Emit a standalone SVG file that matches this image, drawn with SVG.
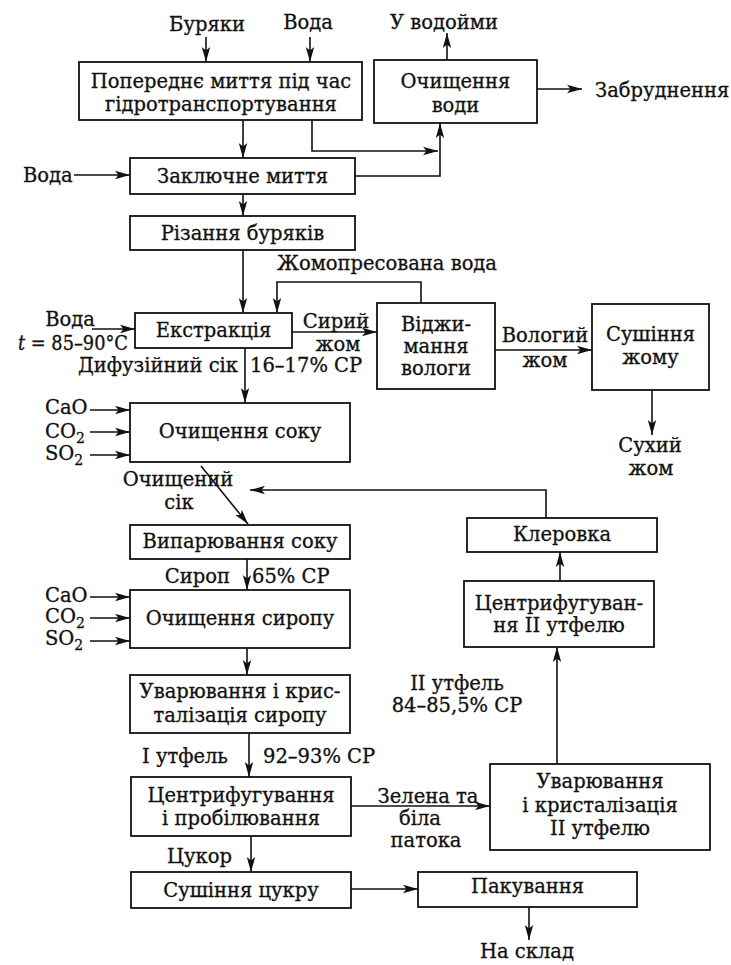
<svg xmlns="http://www.w3.org/2000/svg" width="731" height="965" viewBox="0 0 731 965">
<defs>
<marker id="ah" markerUnits="userSpaceOnUse" markerWidth="16" markerHeight="10" refX="15" refY="5" orient="auto">
<path d="M0,0.8 L15,5 L0,9.2 L3.5,5 z" fill="#111"/>
</marker>
<style>
rect{fill:#fff;stroke:#111;stroke-width:1.8}
text{font-family:"DejaVu Serif","Liberation Serif",serif;font-size:19.5px;fill:#111;stroke:#111;stroke-width:0.3}
.c{text-anchor:middle}
.e{text-anchor:end}
.sub{font-size:14px}
#connectors path{fill:none;stroke:#111;stroke-width:1.6}
.a{marker-end:url(#ah)}
</style>
</defs>
<rect x="0" y="0" width="731" height="965" style="fill:#fff;stroke:none"/>

<g id="connectors">
<path class="a" d="M206,37 V62"/>
<path class="a" d="M310,37 V62"/>
<path class="a" d="M447,60 V33"/>
<path class="a" d="M537,89 H582"/>
<path class="a" d="M243,120 V158"/>
<path class="a" d="M312,120 V151 H438"/>
<path class="a" d="M355,176 H440 V123"/>
<path class="a" d="M74,175 H130"/>
<path class="a" d="M243,194 V216"/>
<path class="a" d="M243,250 V313"/>
<path class="a" d="M421,303 V282 H277 V313"/>
<path class="a" d="M92,329 H135"/>
<path class="a" d="M292,332 H377"/>
<path class="a" d="M495,350 H592"/>
<path class="a" d="M652,390 V435"/>
<path class="a" d="M245,348 V403"/>
<path class="a" d="M90,410 H130"/>
<path class="a" d="M90,432 H130"/>
<path class="a" d="M90,455 H130"/>
<path class="a" d="M201,466 L248,524"/>
<path class="a" d="M546,518 V490 H250"/>
<path class="a" d="M247,559 V590"/>
<path class="a" d="M90,597 H130"/>
<path class="a" d="M90,618 H130"/>
<path class="a" d="M90,641 H130"/>
<path class="a" d="M247,648 V675"/>
<path class="a" d="M249,733 V777"/>
<path class="a" d="M351,806 H490"/>
<path class="a" d="M251,836 V872"/>
<path class="a" d="M351,889 H418"/>
<path class="a" d="M529,907 V940"/>
<path class="a" d="M557,764 V647"/>
<path class="a" d="M560,581 V552"/>
</g>

<g id="labels">
<text class="c" x="207" y="31">Буряки</text>
<text class="c" x="308" y="29">Вода</text>
<text class="c" x="444" y="29">У водойми</text>
<text x="595" y="97">Забруднення</text>
<text x="23" y="182">Вода</text>
<text class="c" x="387" y="270">Жомопресована вода</text>
<text class="c" x="70" y="326">Вода</text>
<text x="18" y="350" textLength="110" lengthAdjust="spacingAndGlyphs"><tspan font-style="italic">t</tspan> = 85–90°C</text>
<text class="c" x="336" y="328">Сирий</text>
<text class="c" x="338" y="351">жом</text>
<text class="c" x="545" y="342">Вологий</text>
<text class="c" x="545" y="367">жом</text>
<text class="c" x="650" y="452">Сухий</text>
<text class="c" x="651" y="475">жом</text>
<text class="e" x="238" y="372">Дифузійний сік</text>
<text x="250" y="372">16–17% СР</text>
<text x="45" y="414">CaO</text>
<text x="45" y="438">CO<tspan class="sub" dy="5">2</tspan></text>
<text x="45" y="460">SO<tspan class="sub" dy="5">2</tspan></text>
<text class="c" x="178" y="486">Очищений</text>
<text class="c" x="179" y="509">сік</text>
<text class="e" x="230" y="583">Сироп</text>
<text x="252" y="583">65% СР</text>
<text x="45" y="602">CaO</text>
<text x="45" y="623">CO<tspan class="sub" dy="5">2</tspan></text>
<text x="45" y="645">SO<tspan class="sub" dy="5">2</tspan></text>
<text class="c" x="457" y="690">II утфель</text>
<text class="c" x="457" y="712">84–85,5% СР</text>
<text class="e" x="228" y="763">I утфель</text>
<text x="263" y="763">92–93% СР</text>
<text class="c" x="428" y="803">Зелена та</text>
<text class="c" x="420" y="825">біла</text>
<text class="c" x="426" y="847">патока</text>
<text class="e" x="232" y="863">Цукор</text>
<text class="c" x="527" y="958">На склад</text>
</g>

<g id="n-poperednie">
<rect x="79" y="62" width="283" height="58"/>
<text class="c" x="221" y="88">Попереднє миття під час</text>
<text class="c" x="221" y="111">гідротранспортування</text>
</g>
<g id="n-ochyshchennia-vody">
<rect x="374" y="60" width="163" height="63"/>
<text class="c" x="455.5" y="88">Очищення</text>
<text class="c" x="455.5" y="112">води</text>
</g>
<g id="n-zakliuchne">
<rect x="130" y="158" width="225" height="36"/>
<text class="c" x="242.5" y="183">Заключне миття</text>
</g>
<g id="n-rizannia">
<rect x="130" y="216" width="225" height="34"/>
<text class="c" x="242.5" y="240">Різання буряків</text>
</g>
<g id="n-ekstraktsiia">
<rect x="135" y="313" width="157" height="35"/>
<text class="c" x="213.5" y="337">Екстракція</text>
</g>
<g id="n-vidzhymannia">
<rect x="377" y="303" width="118" height="86"/>
<text class="c" x="436" y="331">Віджи-</text>
<text class="c" x="436" y="353">мання</text>
<text class="c" x="436" y="375">вологи</text>
</g>
<g id="n-sushinnia-zhomu">
<rect x="592" y="304" width="117" height="86"/>
<text class="c" x="650.5" y="341">Сушіння</text>
<text class="c" x="650.5" y="364">жому</text>
</g>
<g id="n-ochyshchennia-soku">
<rect x="130" y="403" width="220" height="59"/>
<text class="c" x="240" y="438">Очищення соку</text>
</g>
<g id="n-vyparyuvannia">
<rect x="130" y="525" width="220" height="34"/>
<text class="c" x="240" y="548">Випарювання соку</text>
</g>
<g id="n-ochyshchennia-syropu">
<rect x="130" y="590" width="220" height="58"/>
<text class="c" x="240" y="625">Очищення сиропу</text>
</g>
<g id="n-uvariuvannia-1">
<rect x="130" y="675" width="220" height="58"/>
<text class="c" x="240" y="698">Уварювання і крис-</text>
<text class="c" x="240" y="722">талізація сиропу</text>
</g>
<g id="n-tsentryfuhuvannia-1">
<rect x="131" y="777" width="220" height="59"/>
<text class="c" x="241" y="802">Центрифугування</text>
<text class="c" x="241" y="825">і пробілювання</text>
</g>
<g id="n-uvariuvannia-2">
<rect x="490" y="764" width="220" height="86"/>
<text class="c" x="600" y="788">Уварювання</text>
<text class="c" x="600" y="812">і кристалізація</text>
<text class="c" x="600" y="835">II утфелю</text>
</g>
<g id="n-sushinnia-tsukru">
<rect x="131" y="872" width="220" height="36"/>
<text class="c" x="241" y="897">Сушіння цукру</text>
</g>
<g id="n-pakuvannia">
<rect x="418" y="872" width="219" height="35"/>
<text class="c" x="527.5" y="893">Пакування</text>
</g>
<g id="n-klerovka">
<rect x="467" y="518" width="190" height="34"/>
<text class="c" x="562" y="541">Клеровка</text>
</g>
<g id="n-tsentryfuhuvannia-2">
<rect x="464" y="581" width="190" height="66"/>
<text class="c" x="559" y="610">Центрифугуван-</text>
<text class="c" x="559" y="632">ня II утфелю</text>
</g>
</svg>
